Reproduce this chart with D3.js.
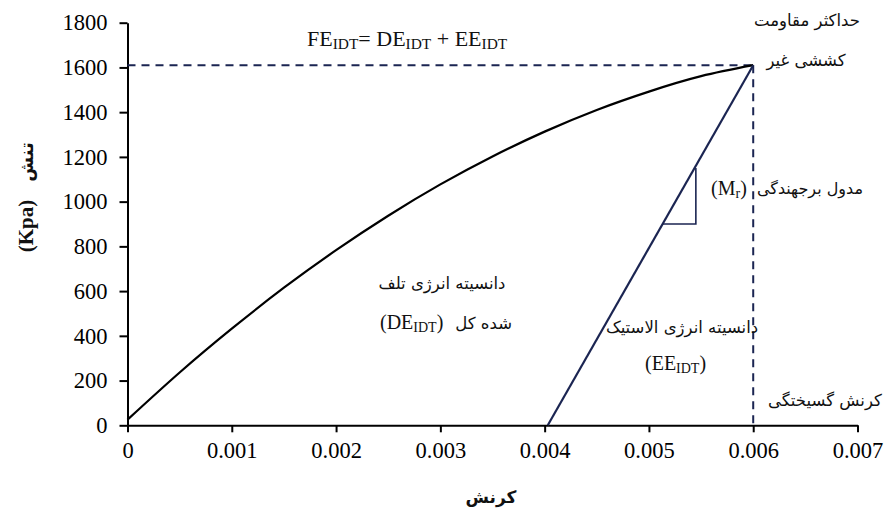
<!DOCTYPE html>
<html>
<head>
<meta charset="utf-8">
<script src="https://cdn.jsdelivr.net/npm/d3@7"></script>
<style>
  html, body { margin: 0; padding: 0; background: #fff; }
  svg { display: block; }
  .axis text { font-family: "Liberation Serif", "Times New Roman", serif; font-size: 22.5px; fill: #000; }
</style>
</head>
<body>
<svg id="chart" width="885" height="522"></svg>
<script>
// Stress–strain curve of the indirect tensile test
const strain = [0, 0.0005, 0.001, 0.0015, 0.002, 0.0025, 0.003, 0.0035, 0.004, 0.0045, 0.005, 0.0055, 0.006];
const stress = [25, 236, 432, 615, 783, 937, 1077, 1202, 1313, 1410, 1492, 1561, 1610];

// Unloading (elastic) line: from the residual strain back up to the peak
const elasticStrain = [0.00403, 0.006];
const elasticStress = [0, 1610];

// Slope triangle drawn on the elastic line
const triStrain = [0.00513, 0.00545, 0.00545];
const triStress = [900, 900, 1150];

// Peak reference values
const peakStress = 1610;
const failureStrain = 0.006;

const xTicks = [0, 0.001, 0.002, 0.003, 0.004, 0.005, 0.006, 0.007];
const xTickLabels = ["0", "0.001", "0.002", "0.003", "0.004", "0.005", "0.006", "0.007"];
const yTicks = [0, 200, 400, 600, 800, 1000, 1200, 1400, 1600, 1800];

const W = 885, H = 522;
const margin = { top: 22.7, right: 27.5, bottom: 96.7, left: 127.5 };

const SERIF = '"Liberation Serif", "Times New Roman", serif';
const FA = '"DejaVu Sans", sans-serif';

const svg = d3.select("#chart");
const x = d3.scaleLinear().domain([0, 0.007]).range([margin.left, W - margin.right]);
const y = d3.scaleLinear().domain([0, 1800]).range([H - margin.bottom, margin.top]);

const navy = "#1b2552";

// Axes
const xAxis = svg.append("g")
  .attr("class", "axis")
  .attr("transform", `translate(0,${y(0)})`)
  .call(d3.axisBottom(x).tickValues(xTicks).tickFormat((d, i) => xTickLabels[i]).tickSize(7).tickPadding(10).tickSizeOuter(0));
const yAxis = svg.append("g")
  .attr("class", "axis")
  .attr("transform", `translate(${x(0)},0)`)
  .call(d3.axisLeft(y).tickValues(yTicks).tickFormat(d3.format("d")).tickSize(8).tickPadding(12).tickSizeOuter(0));

[xAxis, yAxis].forEach(g => {
  g.attr("font-family", SERIF).attr("font-size", 22.5);
  g.selectAll("path.domain").attr("stroke", "#000").attr("stroke-width", 2);
  g.selectAll(".tick line").attr("stroke", "#000").attr("stroke-width", 2);
  g.selectAll(".tick text").attr("font-size", 22.5).attr("font-family", SERIF).attr("fill", "#000");
});

// Dashed guides to the peak
svg.append("line")
  .attr("x1", x(0)).attr("x2", x(failureStrain))
  .attr("y1", y(peakStress)).attr("y2", y(peakStress))
  .attr("stroke", navy).attr("stroke-width", 2).attr("stroke-dasharray", "8,6");
svg.append("line")
  .attr("x1", x(failureStrain)).attr("x2", x(failureStrain))
  .attr("y1", y(peakStress)).attr("y2", y(0))
  .attr("stroke", navy).attr("stroke-width", 2).attr("stroke-dasharray", "8,6");

// Loading curve
const curvePts = strain.map((s, i) => [s, stress[i]]);
svg.append("path")
  .datum(curvePts)
  .attr("fill", "none")
  .attr("stroke", "#000")
  .attr("stroke-width", 2.2)
  .attr("d", d3.line().x(d => x(d[0])).y(d => y(d[1])).curve(d3.curveNatural));

// Elastic line
svg.append("path")
  .datum(elasticStrain.map((s, i) => [s, elasticStress[i]]))
  .attr("fill", "none")
  .attr("stroke", navy)
  .attr("stroke-width", 2.2)
  .attr("d", d3.line().x(d => x(d[0])).y(d => y(d[1])));

// Slope triangle
svg.append("path")
  .datum(triStrain.map((s, i) => [s, triStress[i]]))
  .attr("fill", "none")
  .attr("stroke", navy)
  .attr("stroke-width", 1.6)
  .attr("d", d3.line().x(d => x(d[0])).y(d => y(d[1])));

// Text helpers
function fa(txt, cx, by, size, opts = {}) {
  return svg.append("text")
    .attr("x", cx).attr("y", by)
    .attr("text-anchor", opts.anchor || "middle")
    .attr("direction", "rtl")
    .style("font-family", FA)
    .style("font-size", size + "px")
    .style("font-weight", opts.bold ? "bold" : "normal")
    .attr("fill", "#111")
    .text(txt);
}
function subText(parts, xPos, by, size, anchor) {
  const t = svg.append("text")
    .attr("x", xPos).attr("y", by)
    .attr("text-anchor", anchor || "start")
    .style("font-family", SERIF)
    .style("font-size", size + "px")
    .attr("fill", "#111");
  parts.forEach(p => {
    const ts = t.append("tspan").text(p.t);
    if (p.sub) ts.style("font-size", (size * 0.7) + "px").attr("dy", 3);
    else if (p.up) ts.attr("dy", -3);
  });
  return t;
}

// Energy formula
subText([
  { t: "FE" }, { t: "IDT", sub: true }, { t: "= DE", up: true }, { t: "IDT", sub: true },
  { t: " + EE", up: true }, { t: "IDT", sub: true }
], 307, 46, 22);

// Peak label
fa("حداکثر مقاومت", 807, 26, 16.5);
fa("کششی غیر", 806, 66, 16.5);

// Resilient modulus label
subText([{ t: "(M" }, { t: "r", sub: true }, { t: ")", up: true }], 711, 195, 20);
fa("مدول برجهندگی", 810, 194, 16);

// Elastic energy label
fa("دانسیته انرژی الاستیک", 682, 333, 16.5);
subText([{ t: "(EE" }, { t: "IDT", sub: true }, { t: ")", up: true }], 645, 370, 20);

// Failure strain label
fa("کرنش گسیختگی", 768, 406, 16.5, { anchor: "end" });

// Dissipated energy label
fa("دانسیته انرژی تلف", 442, 289, 16.5);
fa("شده کل", 512, 329, 16.5, { anchor: "start" });
subText([{ t: "(DE" }, { t: "IDT", sub: true }, { t: ")", up: true }], 380, 329, 20);

// Axis titles
fa("کرنش", 491, 503, 17, { bold: true });
const yt = svg.append("g").attr("transform", "translate(33,205) rotate(-90)");
yt.append("text")
  .attr("x", -21).attr("y", 0)
  .attr("text-anchor", "middle")
  .style("font-family", SERIF)
  .style("font-weight", "bold")
  .style("font-size", "21px")
  .attr("fill", "#111")
  .text("(Kpa)");
yt.append("text")
  .attr("x", 43).attr("y", 0)
  .attr("text-anchor", "middle")
  .attr("direction", "rtl")
  .style("font-family", FA)
  .style("font-weight", "bold")
  .style("font-size", "18px")
  .attr("fill", "#111")
  .text("تنش");
</script>
</body>
</html>
